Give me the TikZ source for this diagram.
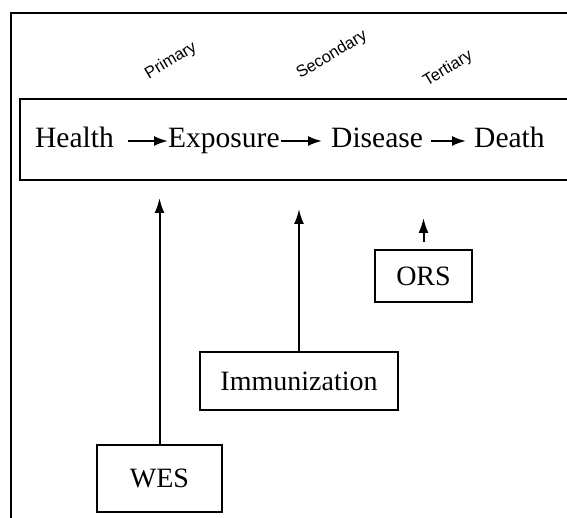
\documentclass[tikz,border=0pt]{standalone}
\usepackage{fontspec}
\setmainfont{Liberation Serif}
\newfontfamily\lsans{Liberation Sans}
\usetikzlibrary{arrows.meta}
\begin{document}
\begin{tikzpicture}[x=1pt,y=-1pt,
  frameline/.style={line width=1.9pt},
  chainword/.style={anchor=base west,inner sep=0pt,font=\fontsize{29.5}{32}\selectfont},
  harrow/.style={line width=2pt,-{Latex[length=14pt,width=10pt]}},
  varrow/.style={line width=2pt,-{Latex[length=15pt,width=10pt]}},
  boxnode/.style={draw,line width=1.9pt,inner sep=0pt,font=\fontsize{28}{30}\selectfont},
  level/.style={rotate=31,inner sep=0pt,font=\lsans\fontsize{16.5}{18}\selectfont}]
\useasboundingbox (0,0) rectangle (567,518);
% outer frame
\draw[frameline] (11,518) -- (11,13) -- (567,13);
% chain box
\draw[frameline] (567,99) -- (20,99) -- (20,180) -- (567,180);
% level labels
\node[level] (primary) at (171,61) {Primary};
\node[level] (secondary) at (332,55) {Secondary};
\node[level] (tertiary) at (448,69) {Tertiary};
% chain
\node[chainword] (health) at (35,148) {Health};
\node[chainword] (exposure) at (168,148) {Exposure};
\node[chainword] (disease) at (331,148) {Disease};
\node[chainword] (death) at (474,148) {Death};
\draw[harrow] ([shift={(14,-7)}]health.base east) -- ([shift={(0,-7)}]exposure.base west);
\draw[harrow] ([shift={(1,-7)}]exposure.base east) -- ([shift={(-9,-7)}]disease.base west);
\draw[harrow] ([shift={(8,-7)}]disease.base east) -- ([shift={(-8,-7)}]death.base west);
% interventions
\node[boxnode,minimum width=125pt,minimum height=67pt] (wes) at (159.5,478.5) {WES};
\node[boxnode,minimum width=198pt,minimum height=58pt] (imm) at (299,381) {Immunization};
\node[boxnode,minimum width=97pt,minimum height=52pt] (ors) at (423.5,276) {ORS};
\coordinate (weshead) at (159.5,198);
\coordinate (immhead) at (299,209);
\coordinate (orshead) at (423.5,218);
\coordinate (orstail) at (423.5,242);
\draw[varrow] (wes.north) -- (weshead);
\draw[varrow] (imm.north) -- (immhead);
\draw[varrow] (orstail) -- (orshead);
\end{tikzpicture}
\end{document}
